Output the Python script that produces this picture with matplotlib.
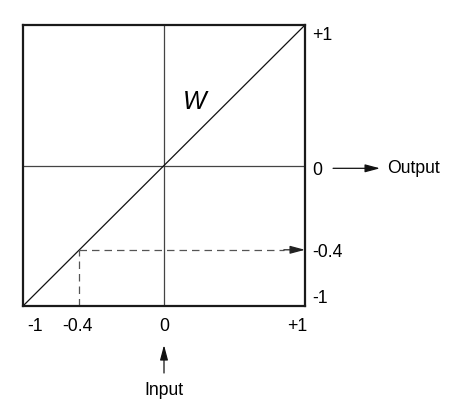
import matplotlib
matplotlib.use("Agg")
import matplotlib.pyplot as plt

plt.rcParams['font.family'] = ['Liberation Sans', 'DejaVu Sans']

# transfer line W (input -> output)
w_x = [-1, 1]
w_y = [-1, 1]

# worked example: point (drawn position)
example_in = -0.6
example_out = -0.6

# tick labels and where they sit along the axes
xtick_pos = [-0.915, -0.617, 0, 0.943]
xtick_labels = ['-1', '-0.4', '0', '+1']
ytick_pos = [0.943, -0.02, -0.606, -0.929]
ytick_labels = ['+1', '0', '-0.4', '-1']

fig = plt.figure(figsize=(4.59, 4.19), dpi=100)
ax = fig.add_axes([0.0501, 0.2697, 0.6144, 0.6706])
ax.set_xlim(-1, 1)
ax.set_ylim(-1, 1)

for s in ax.spines.values():
    s.set_linewidth(1.6)
    s.set_color('#1a1a1a')

# cross hairs
ax.axhline(0, color='#444444', lw=0.9)
ax.axvline(0, color='#444444', lw=0.9)

# the W line
ax.plot(w_x, w_y, color='#111111', lw=0.9)
ax.text(0.22, 0.45, 'W', fontsize=18, style='italic', ha='center', va='center')

# dashed read-off lines
dash = dict(color='#555555', lw=0.9, dashes=(6, 4))
ax.plot([example_in, example_in], [-1, example_out], **dash)
ax.plot([example_in, 0.85], [example_out, example_out], **dash)
ax.annotate('', xy=(1, example_out), xytext=(0.85, example_out),
            arrowprops=dict(arrowstyle='-|>,head_length=0.6,head_width=0.16',
                            color='#222222', lw=0.9, mutation_scale=15,
                            shrinkA=0, shrinkB=0))

ax.set_xticks(xtick_pos)
ax.set_xticklabels(xtick_labels)
ax.yaxis.tick_right()
ax.set_yticks(ytick_pos)
ax.set_yticklabels(ytick_labels)
ax.tick_params(axis='x', length=0, pad=9, labelsize=12.7)
ax.tick_params(axis='y', length=0, pad=5, labelsize=12.7)
for lab in ax.get_yticklabels():
    lab.set_horizontalalignment('left')

# output arrow
ax.annotate('', xy=(1.532, -0.02), xytext=(1.199, -0.02), annotation_clip=False,
            arrowprops=dict(arrowstyle='-|>,head_length=0.6,head_width=0.16',
                            color='#111111', lw=0.9, mutation_scale=15,
                            shrinkA=0, shrinkB=0))
ax.text(1.58, -0.02, 'Output', fontsize=12.7, ha='left', va='center', clip_on=False)

# input arrow
ax.annotate('', xy=(0, -1.278), xytext=(0, -1.477), annotation_clip=False,
            arrowprops=dict(arrowstyle='-|>,head_length=0.6,head_width=0.16',
                            color='#111111', lw=0.9, mutation_scale=15,
                            shrinkA=0, shrinkB=0))
ax.text(0, -1.598, 'Input', fontsize=12.7, ha='center', va='center', clip_on=False)

fig.savefig('out.png', dpi=100)
